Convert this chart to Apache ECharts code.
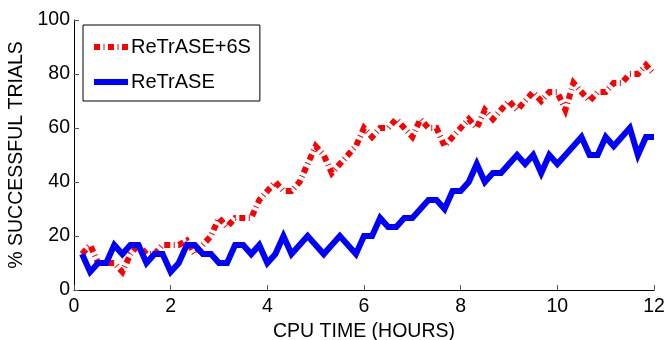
<!DOCTYPE html>
<html>
<head>
<meta charset="utf-8">
<script src="https://cdn.jsdelivr.net/npm/echarts@6/dist/echarts.min.js"></script>
<style>
html,body{margin:0;padding:0;background:#fff;}
#chart{width:667px;height:340px;}
</style>
</head>
<body>
<div id="chart"></div>
<script>
// Sampling times (minutes of CPU time)
const minutes = [10,20,30,40,50,60,70,80,90,100,110,120,130,140,150,160,170,180,190,200,210,220,230,240,
  250,260,270,280,290,300,310,320,330,340,350,360,370,380,390,400,410,420,430,440,450,460,470,480,
  490,500,510,520,530,540,550,560,570,580,590,600,610,620,630,640,650,660,670,680,690,700,710,720];

// % successful trials
const retraseSix = [13.3,16.7,10,10,10,6.7,13.3,16.7,13.3,13.3,16.7,16.7,16.7,18.3,13.3,16.7,20,26.7,23.3,26.7,26.7,26.7,33.3,36.7,
  40,36.7,36.7,40,46.7,53.3,50,43.3,46.7,50,53.3,60,56.7,60,60,63.3,60,56.7,63.3,60,60,53.3,56.7,60,
  63.3,60,66.7,63.3,66.7,70,66.7,70,73.3,70,73.3,73.3,66.7,76.7,73.3,70,73.3,73.3,76.7,76.7,80,80,83.3,80];

const retrase = [13.3,6.7,10,10,16.7,13.3,16.7,16.7,10,13.3,13.3,6.7,10,16.7,16.7,13.3,13.3,10,10,16.7,16.7,13.3,16.7,10,
  13.3,20,13.3,16.7,20,16.7,13.3,16.7,20,16.7,13.3,20,20,26.7,23.3,23.3,26.7,26.7,30,33.3,33.3,30,36.7,36.7,
  40,46.7,40,43.3,43.3,46.7,50,46.7,50,43.3,50,46.7,50,53.3,56.7,50,50,56.7,53.3,56.7,60,50,56.7,56.7];

const seriesNames = ['ReTrASE+6S', 'ReTrASE'];
const xTicks = [0, 2, 4, 6, 8, 10, 12];
const yTicks = [0, 20, 40, 60, 80, 100];

const hours = minutes.map(m => m / 60);
const pairs = vals => vals.map((v, i) => [hours[i], v]);

const font = 'Liberation Sans, Arial, Helvetica, sans-serif';
const chart = echarts.init(document.getElementById('chart'), null, {renderer: 'canvas'});
chart.setOption({
  animation: false,
  backgroundColor: '#fff',
  grid: {left: 74, right: 13, top: 20, bottom: 50, containLabel: false, outerBoundsMode: 'none'},
  legend: {
    orient: 'vertical',
    left: 83, top: 25,
    data: seriesNames,
    borderColor: '#000', borderWidth: 1,
    backgroundColor: '#fff',
    padding: [12, 9, 9, 8],
    itemGap: 15,
    itemWidth: 34, itemHeight: 14,
    itemStyle: {opacity: 0},
    lineStyle: {width: 6, cap: 'butt'},
    textStyle: {fontFamily: font, fontSize: 20, color: '#000', padding: [0,0,0,-2]}
  },
  xAxis: {
    type: 'value', min: xTicks[0], max: xTicks[xTicks.length-1], interval: 2,
    name: 'CPU TIME (HOURS)', nameLocation: 'middle', nameGap: 26,
    nameTextStyle: {fontFamily: font, fontSize: 19.5, color: '#000'},
    axisLine: {show: true, lineStyle: {color: '#000', width: 1}},
    axisTick: {show: true, inside: true, length: 5, lineStyle: {color: '#555'}},
    axisLabel: {fontFamily: font, fontSize: 19.5, color: '#000', margin: 7},
    splitLine: {show: false}
  },
  yAxis: {
    type: 'value', min: yTicks[0], max: yTicks[yTicks.length-1], interval: 20,
    name: '% SUCCESSFUL TRIALS', nameLocation: 'middle', nameGap: 44,
    nameTextStyle: {fontFamily: font, fontSize: 19.5, color: '#000'},
    axisLine: {show: true, lineStyle: {color: '#000', width: 1}},
    axisTick: {show: true, inside: true, length: 5, lineStyle: {color: '#555'}},
    axisLabel: {fontFamily: font, fontSize: 19.5, color: '#000', margin: 4},
    splitLine: {show: false}
  },
  series: [
    {
      name: seriesNames[0], type: 'line', data: pairs(retraseSix),
      showSymbol: false, symbol: 'none',
      itemStyle: {color: '#ff0000'},
      lineStyle: {color: '#ff0000', width: 6, type: [6, 3.5, 1, 3.5], cap: 'butt', join: 'miter'}
    },
    {
      name: seriesNames[1], type: 'line', data: pairs(retrase),
      showSymbol: false, symbol: 'none',
      itemStyle: {color: '#0000ff'},
      lineStyle: {color: '#0000ff', width: 6, type: 'solid', join: 'miter'}
    }
  ]
});
</script>
</body>
</html>
